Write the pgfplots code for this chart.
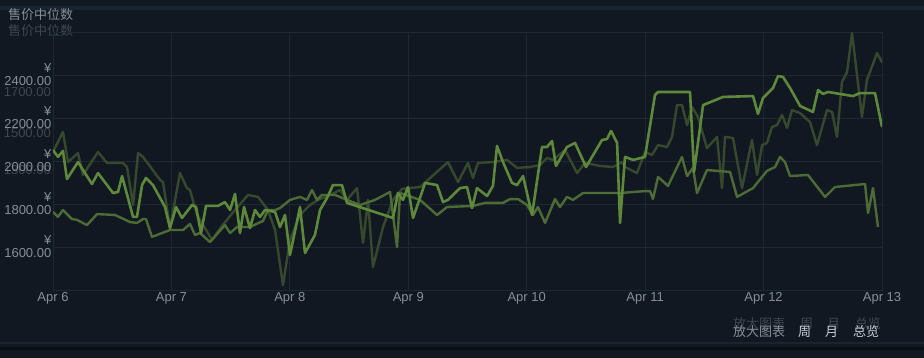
\documentclass[border=0pt]{standalone}
\usepackage{pgfplots}
\pgfplotsset{compat=1.18}
\usepackage{fontspec}
\setmainfont{Liberation Sans}
\newfontfamily\cjk{Noto Sans CJK SC}
\definecolor{bg}{HTML}{111822}
\definecolor{gridc}{HTML}{1C2834}
\definecolor{lab}{HTML}{868E96}
\definecolor{ghost}{HTML}{3E4650}
\definecolor{lineB}{HTML}{5E883A}
\definecolor{lineM}{HTML}{4D6C35}
\definecolor{lineF}{HTML}{36492D}
\definecolor{wtext}{HTML}{C6CDD3}
\definecolor{sepA}{HTML}{1A2330}
\definecolor{sepB}{HTML}{0A0F15}

\pgfplotstableread{
x y
0.000 2051
0.042 2019
0.084 2047
0.118 1916
0.211 1995
0.329 1893
0.380 1944
0.507 1851
0.549 1856
0.583 1930
0.676 1740
0.709 1740
0.752 1888
0.785 1921
0.844 1888
0.946 1786
0.988 1688
1.039 1786
1.089 1735
1.174 1795
1.208 1786
1.250 1665
1.292 1791
1.393 1791
1.452 1809
1.495 1772
1.537 1847
1.579 1665
1.613 1786
1.663 1688
1.706 1772
1.748 1740
1.790 1772
1.875 1763
1.917 1693
1.959 1749
2.001 1563
2.086 1786
2.128 1572
2.212 1656
2.255 1772
2.314 1828
2.364 1888
2.440 1888
2.483 1805
2.871 1735
2.913 1851
2.955 1819
2.998 1879
3.040 1735
3.116 1856
3.141 1898
3.243 1888
3.293 1809
3.335 1819
3.437 1874
3.496 1879
3.538 1781
3.580 1874
3.665 1837
3.715 1884
3.749 2070
3.800 1995
3.876 1898
3.918 1888
3.969 1930
4.045 1749
4.129 2065
4.171 2065
4.214 2093
4.247 1977
4.340 2065
4.408 2084
4.501 1972
4.636 2098
4.678 2102
4.712 2140
4.763 2084
4.788 1712
4.830 2019
4.898 2005
4.999 2019
5.083 2307
5.109 2321
5.379 2321
5.413 1949
5.489 2260
5.658 2298
5.911 2302
5.953 2219
5.995 2293
6.080 2340
6.122 2395
6.164 2391
6.223 2340
6.308 2256
6.417 2228
6.460 2330
6.502 2312
6.544 2321
6.755 2302
6.814 2316
6.941 2316
7.000 2158
}\seriesB

\pgfplotstableread{
x y
0.000 1763
0.042 1740
0.084 1772
0.160 1730
0.203 1726
0.287 1702
0.372 1753
0.524 1749
0.650 1716
0.709 1712
0.760 1730
0.785 1730
0.836 1647
0.988 1679
1.098 1679
1.157 1707
1.199 1656
1.241 1665
1.326 1623
1.452 1702
1.495 1665
1.554 1693
1.663 1693
1.773 1721
1.815 1772
1.875 1772
1.917 1781
2.001 1819
2.086 1833
2.145 1819
2.187 1865
2.229 1819
2.271 1842
2.381 1842
2.483 1819
2.592 1795
2.719 1819
2.846 1856
2.905 1600
2.930 1851
3.099 1819
3.243 1749
3.327 1786
3.546 1791
3.648 1805
3.800 1805
3.859 1823
3.927 1823
4.003 1795
4.053 1749
4.095 1786
4.155 1712
4.239 1823
4.281 1786
4.340 1833
4.391 1819
4.475 1851
4.788 1851
4.999 1860
5.041 1860
5.066 1823
5.109 1926
5.193 1884
5.311 2019
5.354 1930
5.404 1968
5.438 1851
5.522 1958
5.717 1949
5.776 1833
5.911 1874
6.029 1954
6.097 1972
6.139 2019
6.181 1995
6.223 1930
6.375 1935
6.519 1833
6.603 1879
6.857 1893
6.882 1758
6.924 1874
6.966 1693
}\seriesM

\pgfplotstableread{
x y
0.000 2042
0.084 2135
0.127 1995
0.211 2037
0.253 1935
0.380 2042
0.456 1991
0.591 1991
0.625 1972
0.676 1795
0.718 2037
0.760 2019
0.904 1912
0.929 1902
0.988 1688
1.072 1944
1.131 1874
1.157 1865
1.216 1749
1.241 1726
1.343 1633
1.427 1698
1.537 1772
1.647 1842
1.731 1833
1.815 1772
1.875 1679
1.942 1423
2.001 1633
2.086 1749
2.170 1795
2.238 1819
2.339 1842
2.423 1865
2.483 1819
2.567 1874
2.618 1619
2.660 1819
2.702 1507
2.787 1693
2.871 1819
2.947 1870
3.099 1879
3.335 1995
3.420 1902
3.504 1991
3.546 1921
3.589 1991
3.715 1995
3.834 2005
3.918 1968
4.028 1972
4.112 1981
4.171 2014
4.222 2005
4.323 2051
4.425 1944
4.492 1991
4.619 1977
4.729 1972
4.805 1995
4.830 1972
4.931 1944
4.999 2042
5.058 2028
5.109 2074
5.185 2065
5.227 2112
5.269 2260
5.311 2260
5.354 2167
5.396 2251
5.446 2205
5.522 2060
5.607 2112
5.649 1874
5.674 2112
5.742 2107
5.818 1874
5.902 2098
5.945 1935
5.987 2074
6.029 2084
6.071 2158
6.114 2167
6.156 2214
6.198 2154
6.240 2237
6.308 2223
6.392 2181
6.451 2074
6.536 2237
6.578 2228
6.620 2112
6.662 2367
6.705 2414
6.747 2595
6.831 2205
6.873 2377
6.958 2502
7.000 2460
7.025 2460
}\seriesF

\begin{document}
\begin{tikzpicture}[x=1pt,y=1pt]
\fill[bg] (0pt,0pt) rectangle (924pt,358pt);
\path[use as bounding box] (0pt,0pt) rectangle (924pt,358pt);
% separators
\fill[sepA] (0pt,348pt) rectangle (924pt,352pt);
\fill[sepA] (0pt,14pt) rectangle (924pt,16pt);
\fill[sepB] (0pt,8pt) rectangle (924pt,11pt);
% title and ghost
\node[anchor=west, font=\cjk\fontsize{13}{13}\selectfont, text=lab, inner sep=0] at (8pt,343pt) {售价中位数};
\node[anchor=west, font=\cjk\fontsize{13}{13}\selectfont, text=ghost, inner sep=0] at (8pt,327pt) {售价中位数};
% ghost y labels
\node[anchor=east, font=\fontsize{13}{13}\selectfont, text=ghost, inner sep=0] at (51pt,266pt) {1700.00};
\node[anchor=east, font=\fontsize{13}{13}\selectfont, text=ghost, inner sep=0] at (51pt,225pt) {1500.00};
\node[anchor=east, font=\fontsize{13}{13}\selectfont, text=ghost, inner sep=0] at (51pt,188pt) {1300.00};
\begin{axis}[
  at={(53pt,68pt)}, anchor=south west, scale only axis,
  width=829pt, height=258pt,
  xmin=0, xmax=7, ymin=1400, ymax=2600,
  axis line style={draw=gridc, line width=0.8pt},
  grid=major, grid style={draw=gridc, line width=0.8pt},
  major tick length=0pt,
  xtick={0,1,2,3,4,5,6,7},
  xticklabels={Apr 6,Apr 7,Apr 8,Apr 9,Apr 10,Apr 11,Apr 12,Apr 13},
  ytick={1600,1800,2000,2200,2400},
  yticklabels={{¥\\1600.00},{¥\\1800.00},{¥\\2000.00},{¥\\2200.00},{¥\\2400.00}},
  yticklabel style={align=right, font=\fontsize{13}{13}\selectfont, text=lab, inner sep=1.5pt},
  xticklabel style={font=\fontsize{13}{13}\selectfont, text=lab, inner sep=2pt},
  line join=round,
]
\addplot[lineF, line width=2.4pt] table[x=x,y=y] {\seriesF};
\addplot[lineM, line width=2.4pt] table[x=x,y=y] {\seriesM};
\addplot[lineB, line width=2.6pt] table[x=x,y=y] {\seriesB};
\end{axis}
% bottom right controls (ghost copies above)
\node[anchor=west, font=\cjk\fontsize{13}{13}\selectfont, text=ghost, inner sep=0] at (733pt,34pt) {放大图表};
\node[anchor=west, font=\cjk\fontsize{13}{13}\selectfont, text=ghost, inner sep=0] at (800pt,34pt) {周};
\node[anchor=west, font=\cjk\fontsize{13}{13}\selectfont, text=ghost, inner sep=0] at (827pt,34pt) {月};
\node[anchor=west, font=\cjk\fontsize{13}{13}\selectfont, text=ghost, inner sep=0] at (855pt,34pt) {总览};
\node[anchor=west, font=\cjk\fontsize{13}{13}\selectfont, text=lab, inner sep=0] at (733pt,26pt) {放大图表};
\node[anchor=west, font=\cjk\fontsize{13}{13}\selectfont, text=wtext, inner sep=0] at (798pt,26pt) {周};
\node[anchor=west, font=\cjk\fontsize{13}{13}\selectfont, text=wtext, inner sep=0] at (825pt,26pt) {月};
\node[anchor=west, font=\cjk\fontsize{13}{13}\selectfont, text=wtext, inner sep=0] at (853pt,26pt) {总览};
\end{tikzpicture}
\end{document}
